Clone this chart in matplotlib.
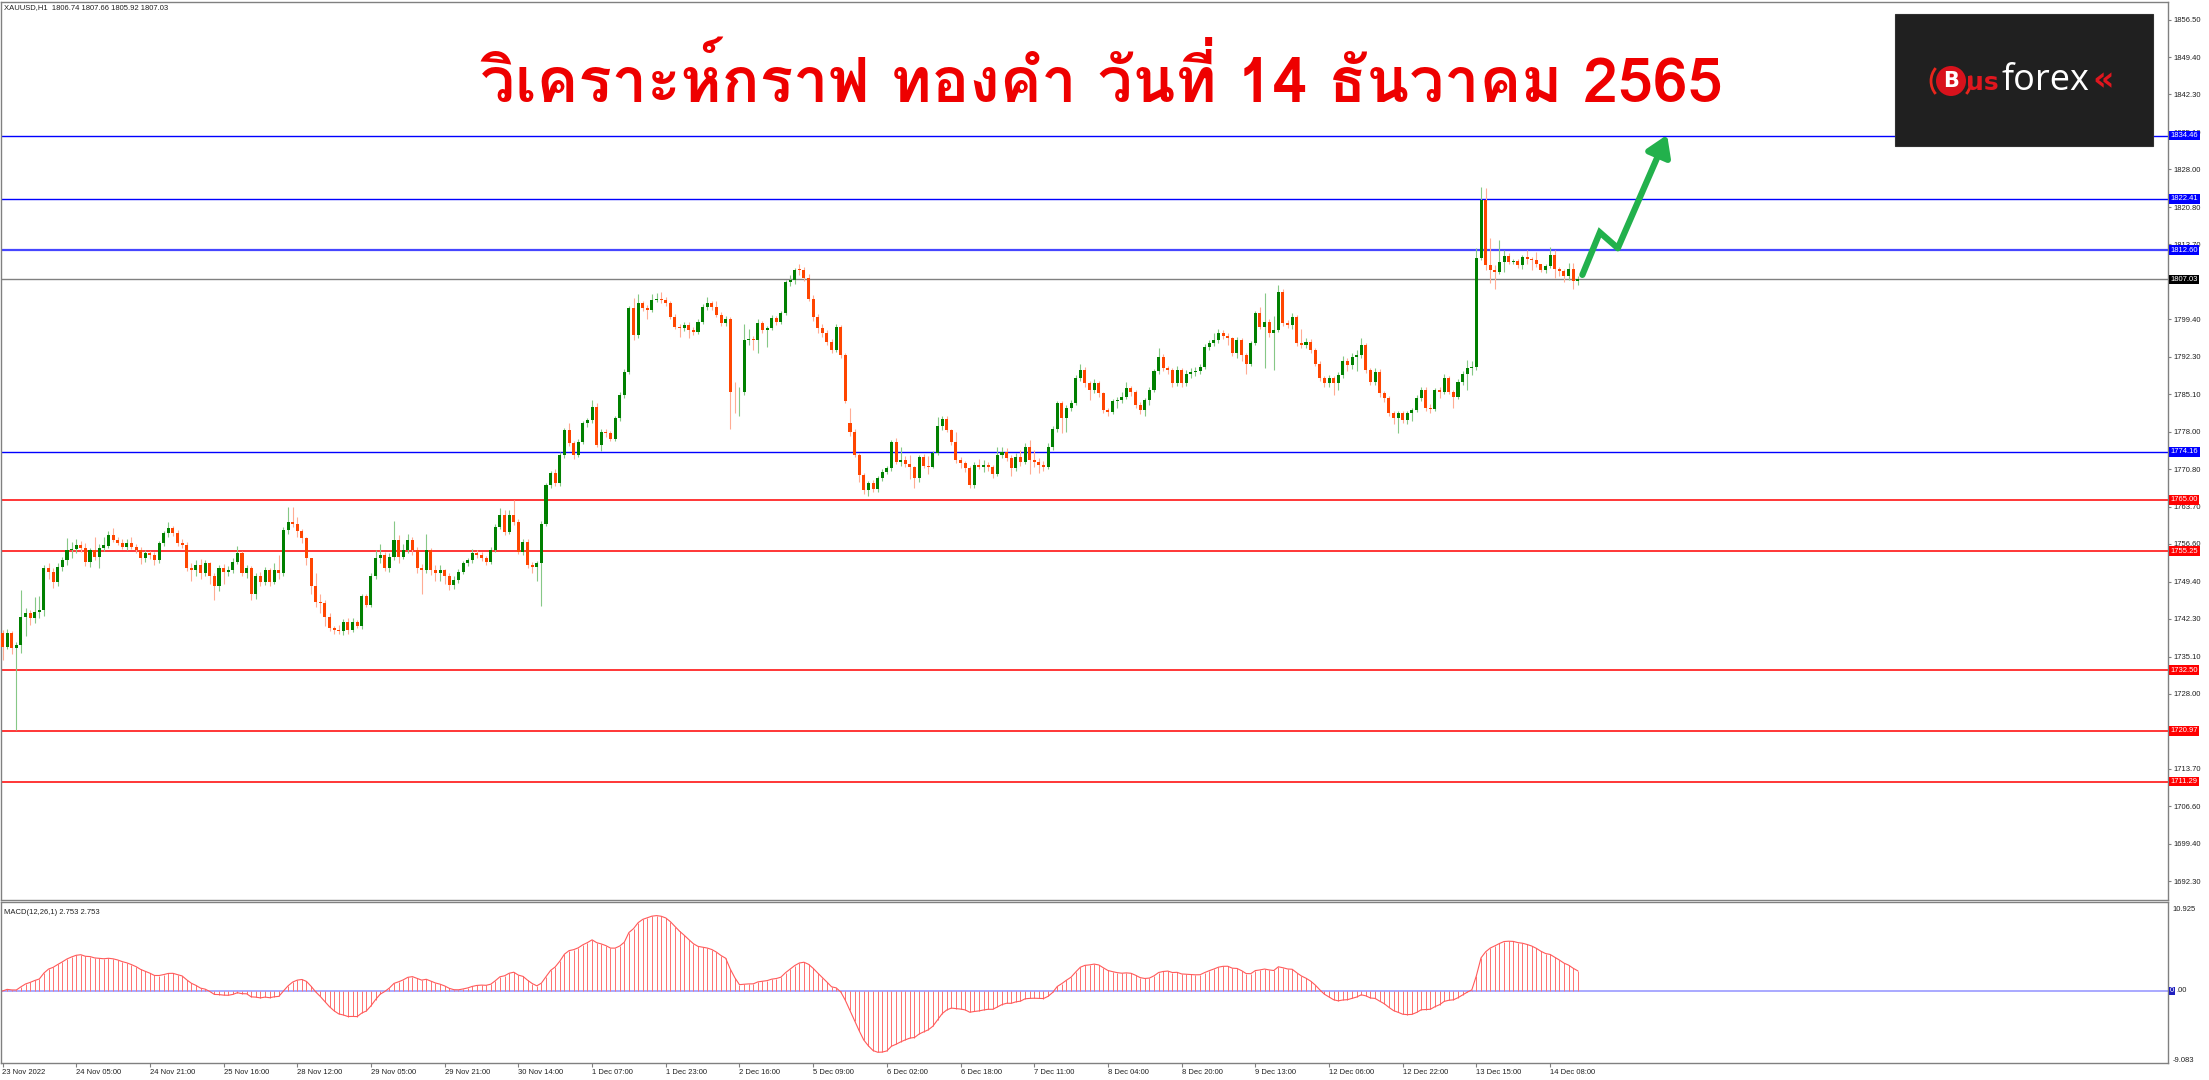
import numpy as np
import pandas as pd
import matplotlib
matplotlib.use("Agg")
import matplotlib.pyplot as plt
from matplotlib import font_manager, ft2font
from matplotlib.patches import Rectangle, Ellipse, Arc
from matplotlib.transforms import blended_transform_factory

# XAUUSD H1 candles, 23 Nov 2022 13:00 .. 14 Dec 2022 14:00
opens = [
    1739.7, 1737.0, 1739.7, 1736.7, 1737.3, 1742.7, 1743.4, 1742.4, 1743.7, 1744.0, 1752.0, 1751.3, 1749.4, 1752.3, 1753.5, 1755.4,
    1755.6, 1756.4, 1755.8, 1753.2, 1755.4, 1754.2, 1755.8, 1756.2, 1758.3, 1757.4, 1756.8, 1756.1, 1756.8, 1756.0, 1755.4, 1753.9,
    1754.8, 1754.5, 1753.5, 1756.7, 1758.6, 1759.6, 1758.6, 1756.7, 1756.4, 1752.0, 1751.6, 1752.6, 1751.0, 1752.9, 1750.4, 1748.5,
    1752.0, 1751.3, 1751.6, 1753.2, 1754.8, 1751.0, 1752.0, 1747.0, 1750.4, 1749.4, 1751.6, 1749.4, 1751.6, 1751.0, 1759.3, 1760.85,
    1760.5, 1759.0, 1757.7, 1753.9, 1748.5, 1745.6, 1745.3, 1742.7, 1740.5, 1740.2, 1740.0, 1741.8, 1740.2, 1741.8, 1741.0, 1746.6,
    1745.0, 1750.5, 1753.9, 1754.5, 1752.0, 1754.2, 1757.4, 1754.2, 1755.5, 1757.4, 1755.5, 1752.0, 1751.6, 1755.45, 1751.6, 1751.0,
    1751.6, 1750.4, 1748.8, 1749.7, 1751.3, 1752.9, 1753.5, 1754.8, 1754.5, 1753.9, 1753.2, 1755.45, 1759.9, 1762.1, 1758.95, 1762.1,
    1760.85, 1755.1, 1757.0, 1752.6, 1752.3, 1752.9, 1760.5, 1767.85, 1770.1, 1768.2, 1773.6, 1778.3, 1775.8, 1773.6, 1776.1, 1779.6,
    1780.2, 1782.8, 1775.5, 1778.0, 1777.7, 1776.7, 1780.6, 1785.0, 1789.45, 1801.5, 1796.4, 1802.5, 1801.5, 1801.2, 1803.2, 1803.4,
    1803.1, 1802.5, 1799.9, 1798.0, 1797.7, 1798.35, 1797.4, 1797.1, 1799.0, 1801.85, 1802.5, 1801.85, 1800.3, 1798.7, 1799.4, 1785.6,
    1785.5, 1785.6, 1795.5, 1795.6, 1795.4, 1798.7, 1797.4, 1797.8, 1799.6, 1799.0, 1800.6, 1806.6, 1806.9, 1808.9, 1808.8, 1807.25,
    1803.4, 1799.9, 1797.7, 1796.8, 1795.2, 1793.6, 1798.0, 1792.6, 1779.6, 1778.0, 1773.6, 1769.75, 1766.8, 1768.2, 1767.0, 1769.1,
    1770.4, 1771.0, 1776.1, 1772.3, 1772.6, 1771.9, 1771.3, 1769.1, 1773.2, 1771.5, 1771.3, 1773.9, 1779.0, 1780.5, 1778.3, 1776.1,
    1772.6, 1772.0, 1771.0, 1767.8, 1771.7, 1771.3, 1771.7, 1771.3, 1770.0, 1773.6, 1774.2, 1773.0, 1771.0, 1773.2, 1772.3, 1775.1,
    1772.6, 1772.2, 1771.6, 1771.3, 1775.1, 1778.6, 1783.4, 1780.6, 1782.5, 1783.4, 1788.2, 1789.8, 1787.2, 1786.0, 1787.2, 1785.3,
    1782.1, 1781.8, 1783.8, 1784.0, 1784.7, 1786.3, 1785.6, 1783.1, 1782.1, 1784.0, 1786.0, 1789.5, 1792.3, 1790.1, 1789.8, 1787.2,
    1789.8, 1787.2, 1789.1, 1789.45, 1789.5, 1790.4, 1794.2, 1794.85, 1795.5, 1796.9, 1796.3, 1795.8, 1792.95, 1795.5, 1792.6, 1791.0,
    1794.85, 1800.6, 1798.0, 1799.0, 1796.8, 1797.4, 1804.7, 1798.7, 1798.4, 1799.9, 1794.85, 1794.5, 1795.2, 1793.6, 1791.0, 1788.2,
    1787.2, 1788.2, 1787.2, 1788.8, 1791.4, 1790.7, 1792.3, 1792.6, 1794.5, 1789.8, 1787.5, 1789.45, 1785.3, 1784.4, 1781.5, 1780.55,
    1781.5, 1780.2, 1781.5, 1782.1, 1784.4, 1786.0, 1782.5, 1782.4, 1786.0, 1785.6, 1788.2, 1785.6, 1784.7, 1787.5, 1789.1, 1790.1,
    1790.3, 1811.1, 1822.2, 1809.8, 1808.9, 1808.5, 1810.4, 1811.5, 1810.4, 1810.6, 1809.8, 1811.25, 1810.9, 1810.8, 1809.9, 1808.8,
    1809.6, 1811.7, 1808.96, 1808.7, 1807.7, 1808.96, 1806.74,
]
highs = [
    1740.2, 1740.3, 1740.0, 1738.0, 1747.8, 1744.3, 1744.0, 1746.5, 1746.6, 1752.6, 1753.0, 1752.0, 1753.0, 1754.2, 1757.8, 1757.0,
    1757.6, 1757.2, 1756.8, 1755.9, 1758.0, 1756.5, 1758.0, 1759.0, 1759.6, 1758.0, 1757.5, 1757.6, 1757.9, 1756.6, 1756.0, 1755.5,
    1755.3, 1755.0, 1757.2, 1759.0, 1760.8, 1760.0, 1759.2, 1757.5, 1756.9, 1753.0, 1753.5, 1753.8, 1753.5, 1753.2, 1751.0, 1752.6,
    1752.8, 1752.4, 1754.0, 1756.2, 1755.3, 1752.5, 1752.4, 1751.0, 1751.2, 1752.3, 1752.0, 1752.9, 1754.5, 1759.8, 1763.7, 1763.7,
    1761.8, 1759.5, 1758.0, 1754.0, 1751.0, 1747.0, 1746.0, 1743.5, 1741.0, 1741.2, 1742.2, 1742.5, 1742.5, 1742.1, 1747.0, 1747.0,
    1751.0, 1755.4, 1756.5, 1755.0, 1754.8, 1761.0, 1758.3, 1756.5, 1758.5, 1758.0, 1756.0, 1752.8, 1758.5, 1755.8, 1752.5, 1752.5,
    1751.8, 1751.0, 1750.5, 1751.8, 1753.4, 1754.0, 1755.6, 1755.4, 1755.0, 1754.4, 1756.0, 1760.4, 1763.4, 1763.0, 1763.0, 1765.0,
    1761.3, 1757.5, 1757.5, 1753.1, 1753.4, 1761.0, 1768.3, 1770.6, 1770.8, 1774.1, 1778.8, 1779.7, 1776.3, 1776.6, 1780.0, 1780.7,
    1784.05, 1783.5, 1778.5, 1778.6, 1778.2, 1781.0, 1785.5, 1790.0, 1802.0, 1803.5, 1804.3, 1803.0, 1802.2, 1804.2, 1804.5, 1804.6,
    1803.6, 1803.0, 1800.4, 1798.6, 1799.0, 1799.0, 1797.9, 1799.5, 1802.3, 1803.7, 1803.0, 1803.0, 1800.8, 1800.0, 1799.9, 1787.5,
    1786.5, 1798.5, 1797.5, 1796.2, 1799.5, 1799.2, 1798.2, 1800.2, 1800.0, 1801.0, 1807.0, 1807.8, 1809.2, 1809.9, 1809.5, 1808.0,
    1804.0, 1800.5, 1798.5, 1797.3, 1795.6, 1798.6, 1798.4, 1793.0, 1782.5, 1778.6, 1774.0, 1770.2, 1768.6, 1768.8, 1769.5, 1770.8,
    1771.5, 1776.5, 1776.8, 1775.0, 1773.3, 1773.5, 1771.5, 1773.6, 1773.8, 1773.3, 1774.4, 1780.9, 1781.0, 1781.0, 1778.6, 1778.0,
    1773.2, 1772.5, 1771.5, 1772.3, 1772.8, 1772.6, 1772.3, 1771.6, 1775.15, 1775.0, 1774.9, 1773.5, 1774.0, 1774.6, 1775.9, 1776.5,
    1774.5, 1773.0, 1772.4, 1775.8, 1779.0, 1783.9, 1783.8, 1783.1, 1784.0, 1788.8, 1791.0, 1790.4, 1787.6, 1788.0, 1787.6, 1785.6,
    1782.6, 1784.3, 1784.6, 1785.6, 1787.5, 1786.8, 1786.0, 1783.6, 1784.5, 1786.5, 1790.0, 1794.0, 1792.8, 1790.6, 1790.2, 1790.6,
    1790.2, 1789.8, 1790.2, 1790.3, 1791.0, 1794.7, 1795.5, 1796.8, 1797.6, 1797.4, 1796.9, 1796.0, 1796.0, 1795.9, 1793.0, 1795.3,
    1801.1, 1801.8, 1804.4, 1799.5, 1800.0, 1806.0, 1805.3, 1799.3, 1800.6, 1800.3, 1797.5, 1795.8, 1795.6, 1794.0, 1791.4, 1788.6,
    1788.8, 1788.7, 1789.4, 1792.5, 1792.0, 1793.0, 1793.5, 1795.8, 1795.0, 1790.2, 1790.1, 1790.0, 1785.8, 1784.9, 1781.9, 1782.0,
    1782.0, 1782.0, 1782.6, 1785.0, 1786.5, 1786.6, 1783.2, 1786.4, 1786.5, 1789.1, 1788.7, 1786.0, 1788.0, 1789.6, 1791.6, 1791.5,
    1813.0, 1824.6, 1824.4, 1814.9, 1809.8, 1814.5, 1812.65, 1812.0, 1811.0, 1811.0, 1811.6, 1812.65, 1811.3, 1812.3, 1810.0, 1810.0,
    1813.2, 1812.65, 1809.4, 1809.0, 1810.1, 1810.1, 1807.66,
]
lows = [
    1734.5, 1736.5, 1735.6, 1721.1, 1735.8, 1739.0, 1741.2, 1741.5, 1742.5, 1742.8, 1750.0, 1748.2, 1748.5, 1751.5, 1752.5, 1754.0,
    1754.8, 1755.0, 1752.4, 1752.2, 1753.5, 1752.0, 1755.2, 1755.8, 1757.0, 1756.4, 1755.6, 1755.5, 1755.7, 1754.9, 1752.8, 1753.2,
    1753.8, 1752.5, 1753.0, 1756.2, 1758.0, 1758.1, 1756.3, 1755.8, 1751.5, 1749.5, 1750.5, 1749.9, 1750.5, 1749.0, 1746.0, 1747.6,
    1749.0, 1750.5, 1751.0, 1752.8, 1750.5, 1750.2, 1746.0, 1746.2, 1748.5, 1748.8, 1748.6, 1748.9, 1750.0, 1750.5, 1758.5, 1759.8,
    1758.0, 1756.8, 1752.5, 1747.0, 1744.5, 1743.5, 1741.0, 1740.0, 1739.5, 1739.4, 1739.3, 1739.4, 1739.8, 1740.6, 1740.3, 1744.6,
    1744.5, 1750.0, 1753.0, 1751.5, 1751.3, 1753.5, 1753.0, 1753.7, 1754.8, 1754.5, 1751.0, 1747.0, 1751.0, 1750.6, 1749.5, 1749.5,
    1749.0, 1747.8, 1748.0, 1749.2, 1750.8, 1752.4, 1753.0, 1754.0, 1753.3, 1752.6, 1752.8, 1755.0, 1759.4, 1758.4, 1758.5, 1760.3,
    1754.6, 1754.5, 1752.0, 1751.0, 1749.5, 1744.8, 1760.0, 1767.3, 1767.6, 1767.7, 1773.0, 1775.3, 1772.8, 1773.1, 1775.6, 1778.9,
    1779.7, 1775.0, 1774.4, 1777.0, 1776.2, 1776.2, 1780.1, 1784.5, 1789.0, 1795.5, 1795.9, 1801.0, 1799.5, 1800.8, 1802.7, 1802.6,
    1802.0, 1799.4, 1797.5, 1796.0, 1797.2, 1795.9, 1796.5, 1796.6, 1798.5, 1801.3, 1801.3, 1799.8, 1798.2, 1798.2, 1778.6, 1781.5,
    1781.0, 1785.0, 1794.5, 1793.5, 1793.0, 1796.8, 1794.2, 1797.3, 1798.3, 1798.6, 1800.2, 1805.8, 1806.2, 1807.8, 1806.8, 1803.0,
    1799.2, 1796.8, 1796.0, 1794.6, 1793.0, 1793.2, 1792.0, 1783.5, 1777.1, 1773.2, 1768.5, 1766.2, 1765.8, 1766.5, 1766.6, 1768.6,
    1770.0, 1770.6, 1771.8, 1771.5, 1771.2, 1769.0, 1767.2, 1768.5, 1771.0, 1770.0, 1771.0, 1773.5, 1778.4, 1778.0, 1775.5, 1772.0,
    1771.0, 1770.3, 1767.2, 1767.3, 1770.8, 1770.3, 1770.5, 1769.2, 1769.6, 1772.9, 1772.5, 1769.5, 1770.5, 1771.5, 1771.9, 1770.0,
    1771.3, 1770.2, 1770.5, 1770.8, 1774.6, 1778.0, 1777.7, 1778.0, 1782.0, 1783.0, 1787.6, 1786.6, 1784.0, 1785.4, 1784.7, 1781.6,
    1781.0, 1781.3, 1782.5, 1783.5, 1784.2, 1784.9, 1782.5, 1781.3, 1781.0, 1783.0, 1785.6, 1789.0, 1789.6, 1789.0, 1786.6, 1786.8,
    1786.5, 1786.8, 1788.3, 1788.6, 1789.0, 1789.9, 1793.6, 1794.3, 1795.0, 1795.6, 1794.5, 1792.4, 1792.0, 1791.5, 1789.1, 1790.5,
    1794.5, 1797.5, 1790.1, 1796.0, 1789.8, 1797.0, 1798.2, 1797.8, 1797.5, 1794.3, 1794.0, 1794.0, 1793.0, 1790.5, 1787.6, 1786.6,
    1786.5, 1785.0, 1786.0, 1788.2, 1789.5, 1790.0, 1789.5, 1792.0, 1789.2, 1787.0, 1787.0, 1784.7, 1783.6, 1781.0, 1779.5, 1777.8,
    1779.6, 1779.5, 1780.0, 1781.7, 1783.9, 1782.0, 1781.6, 1782.0, 1784.5, 1785.2, 1785.1, 1782.5, 1784.2, 1787.0, 1786.0, 1788.8,
    1789.8, 1810.8, 1808.9, 1806.3, 1805.3, 1808.0, 1808.5, 1809.9, 1810.0, 1809.2, 1809.0, 1810.0, 1808.8, 1809.5, 1808.4, 1808.2,
    1809.2, 1807.25, 1807.6, 1806.6, 1806.9, 1805.3, 1805.92,
]
closes = [
    1737.0, 1739.7, 1736.7, 1737.3, 1742.7, 1743.4, 1742.4, 1743.7, 1744.0, 1752.0, 1751.3, 1749.4, 1752.3, 1753.5, 1755.4, 1755.6,
    1756.4, 1755.8, 1753.2, 1755.4, 1754.2, 1755.8, 1756.4, 1758.3, 1757.4, 1756.8, 1756.1, 1756.8, 1756.0, 1755.4, 1753.9, 1754.8,
    1754.5, 1753.5, 1756.7, 1758.6, 1759.6, 1758.6, 1756.7, 1756.4, 1752.0, 1751.6, 1752.6, 1751.0, 1752.9, 1750.4, 1748.5, 1752.0,
    1751.3, 1751.6, 1753.2, 1754.8, 1751.0, 1752.0, 1747.0, 1750.4, 1749.4, 1751.6, 1749.4, 1751.6, 1751.0, 1759.3, 1760.85, 1760.5,
    1759.0, 1757.7, 1753.9, 1748.5, 1745.6, 1745.3, 1742.7, 1740.5, 1740.2, 1740.0, 1741.8, 1740.2, 1741.8, 1741.0, 1746.6, 1745.0,
    1750.5, 1753.9, 1754.5, 1752.0, 1754.2, 1757.4, 1754.2, 1755.5, 1757.4, 1755.5, 1752.0, 1751.6, 1755.45, 1751.6, 1751.0, 1751.6,
    1750.4, 1748.8, 1749.7, 1751.3, 1752.9, 1753.5, 1754.8, 1754.5, 1753.9, 1753.2, 1755.45, 1759.9, 1762.1, 1758.95, 1762.1, 1760.85,
    1755.1, 1757.0, 1752.6, 1752.3, 1752.9, 1760.5, 1767.85, 1770.1, 1768.2, 1773.6, 1778.3, 1775.8, 1773.6, 1776.1, 1779.6, 1780.2,
    1782.8, 1775.5, 1778.0, 1777.7, 1776.7, 1780.6, 1785.0, 1789.45, 1801.5, 1796.4, 1802.5, 1801.5, 1801.2, 1803.2, 1803.4, 1803.1,
    1802.5, 1799.9, 1798.0, 1797.7, 1798.35, 1797.4, 1797.1, 1799.0, 1801.85, 1802.5, 1801.85, 1800.3, 1798.7, 1799.4, 1785.6, 1785.5,
    1785.6, 1795.5, 1795.6, 1795.4, 1798.7, 1797.4, 1797.8, 1799.6, 1799.0, 1800.6, 1806.6, 1806.9, 1808.8, 1808.8, 1807.25, 1803.4,
    1799.9, 1797.7, 1796.8, 1795.2, 1793.6, 1798.0, 1792.6, 1783.9, 1778.0, 1773.6, 1769.75, 1766.8, 1768.2, 1767.0, 1769.1, 1770.4,
    1771.0, 1776.1, 1772.3, 1772.6, 1771.9, 1771.3, 1769.1, 1773.2, 1771.5, 1771.3, 1773.9, 1779.0, 1780.5, 1778.3, 1776.1, 1772.6,
    1772.0, 1771.0, 1767.8, 1771.7, 1771.3, 1771.7, 1771.3, 1770.0, 1773.6, 1774.2, 1773.0, 1771.0, 1773.2, 1772.3, 1775.1, 1772.6,
    1772.2, 1771.6, 1771.3, 1775.1, 1778.6, 1783.4, 1780.6, 1782.5, 1783.4, 1788.2, 1789.8, 1787.2, 1786.0, 1787.2, 1785.3, 1782.1,
    1781.8, 1783.8, 1784.0, 1784.7, 1786.3, 1785.6, 1783.1, 1782.1, 1784.0, 1786.0, 1789.5, 1792.3, 1790.1, 1789.8, 1787.2, 1789.8,
    1787.2, 1789.1, 1789.45, 1789.5, 1790.4, 1794.2, 1794.85, 1795.5, 1796.9, 1796.3, 1795.8, 1792.95, 1795.5, 1792.6, 1791.0, 1794.85,
    1800.6, 1798.0, 1799.0, 1796.8, 1797.4, 1804.7, 1798.7, 1798.4, 1799.9, 1794.85, 1794.5, 1795.2, 1793.6, 1791.0, 1788.2, 1787.2,
    1788.2, 1787.2, 1788.8, 1791.4, 1790.7, 1792.3, 1792.6, 1794.5, 1789.8, 1787.5, 1789.45, 1785.3, 1784.4, 1781.5, 1780.55, 1781.5,
    1780.2, 1781.5, 1782.1, 1784.4, 1786.0, 1782.5, 1782.4, 1785.96, 1785.6, 1788.2, 1785.6, 1784.7, 1787.5, 1789.1, 1790.1, 1790.3,
    1811.1, 1822.2, 1809.8, 1808.9, 1808.5, 1810.4, 1811.5, 1810.4, 1810.6, 1809.8, 1811.25, 1810.9, 1810.8, 1809.9, 1808.8, 1809.6,
    1811.7, 1808.96, 1808.7, 1807.7, 1808.96, 1806.8, 1807.03,
]

x_labels = ["23 Nov 2022", "24 Nov 05:00", "24 Nov 21:00", "25 Nov 16:00", "28 Nov 12:00", "29 Nov 05:00",
            "29 Nov 21:00", "30 Nov 14:00", "1 Dec 07:00", "1 Dec 23:00", "2 Dec 16:00", "5 Dec 09:00",
            "6 Dec 02:00", "6 Dec 18:00", "7 Dec 11:00", "8 Dec 04:00", "8 Dec 20:00", "9 Dec 13:00",
            "12 Dec 06:00", "12 Dec 22:00", "13 Dec 15:00", "14 Dec 08:00"]
label_step = 16

price_ticks = [1856.50, 1849.40, 1842.30, 1835.10, 1828.00, 1820.80, 1813.70, 1799.40, 1792.30, 1785.10,
               1778.00, 1770.80, 1763.70, 1756.60, 1749.40, 1742.30, 1735.10, 1728.00, 1713.70, 1706.60,
               1699.40, 1692.30]

blue_levels = [1834.46, 1822.41, 1812.60, 1774.16]
red_levels = [1765.00, 1755.25, 1732.50, 1720.97, 1711.29]
bid_price = 1807.03

# hand-drawn forecast arrow: bars after the last candle, price
arrow_bars = [1, 4.8, 8.7, 19.4]
arrow_prices = [1807.9, 1816.0, 1813.0, 1834.6]

title = "วิเคราะห์กราฟ ทองคำ วันที่ 14 ธันวาคม 2565"
header = "XAUUSD,H1  1806.74 1807.66 1805.92 1807.03"


def thai_family():
    seen = set()
    found = []
    for f in font_manager.fontManager.ttflist:
        if f.fname in seen or "CJK" in f.name:
            continue
        seen.add(f.fname)
        try:
            if 0x0E01 in ft2font.FT2Font(f.fname).get_charmap():
                found.append(f)
        except Exception:
            pass
    for f in found:
        if str(f.weight) in ("bold", "700", "800", "900"):
            return f.name
    return found[0].name if found else "DejaVu Sans"


plt.rcParams["font.family"] = ["Liberation Sans", "DejaVu Sans"]

W, H = 2209, 1080
fig = plt.figure(figsize=(W / 100, H / 100), dpi=100, facecolor="white")


def px_axes(left, top, right, bottom):
    return fig.add_axes([left / W, 1 - bottom / H, (right - left) / W, (bottom - top) / H])


ax = px_axes(1, 2, 2168, 900)
axm = px_axes(1, 902, 2168, 1063)

o = np.array(opens)
h = np.array(highs)
l = np.array(lows)
c = np.array(closes)
idx = np.arange(len(c))
up = c >= o

bar_px = 4.606
x_lo = (1 - 2.5) / bar_px
x_hi = (2168 - 2.5) / bar_px

# candles
ax.vlines(idx[up], l[up], h[up], color="#86c886", lw=0.8, zorder=2)
ax.vlines(idx[~up], l[~up], h[~up], color="#ffac94", lw=0.8, zorder=2)
body_lo = np.minimum(o, c)
body_h = np.maximum(np.abs(c - o), 0.15)
ax.bar(idx[up], body_h[up], bottom=body_lo[up], width=0.66, color="#008000", linewidth=0, zorder=3)
ax.bar(idx[~up], body_h[~up], bottom=body_lo[~up], width=0.66, color="#ff4500", linewidth=0, zorder=3)

# levels
for lv in blue_levels:
    lw = 1.6 if lv == 1812.60 else 1.0
    col = "#4646ff" if lv == 1812.60 else "#0000ff"
    ax.axhline(lv, color=col, lw=lw, zorder=1)
for lv in red_levels:
    ax.axhline(lv, color="#ff0000", lw=1.1, zorder=1)
ax.axhline(bid_price, color="#808080", lw=1.0, zorder=1)

# forecast arrow
last = idx[-1]
ax_x = [last + b for b in arrow_bars]
ax.plot(ax_x[:-1], arrow_prices[:-1], color="#22b14c", lw=4.5, solid_capstyle="round",
        solid_joinstyle="miter", zorder=5)
ax.annotate("", xy=(ax_x[-1], arrow_prices[-1]), xytext=(ax_x[-2], arrow_prices[-2]),
            arrowprops=dict(arrowstyle="-|>,head_length=0.55,head_width=0.35", lw=4.5,
                            color="#22b14c", mutation_scale=22, shrinkA=0, shrinkB=0), zorder=5)

ax.set_xlim(x_lo, x_hi)
ax.set_ylim(1688.72, 1859.93)
ax.set_xticks([])
ax.yaxis.tick_right()
ax.set_yticks(price_ticks)
ax.set_yticklabels([f"{v:.2f}" for v in price_ticks])
ax.tick_params(axis="y", labelsize=5.5, length=2.5, pad=1.5, color="#808080", labelcolor="#202020")

# price tags on the right scale
tr = blended_transform_factory(ax.transAxes, ax.transData)
tags = [(v, "#0000ff") for v in blue_levels] + [(v, "#ff0000") for v in red_levels] + [(bid_price, "#000000")]
for v, col in tags:
    ax.text(1.0012, v, f"{v:.2f}", transform=tr, fontsize=5.5, color="white", va="center", ha="left",
            bbox=dict(boxstyle="square,pad=0.18", fc=col, ec="none"), clip_on=False, zorder=6)

# MACD(12,26,1)
cs = pd.Series(c)
macd = (cs.ewm(span=12, adjust=False).mean() - cs.ewm(span=26, adjust=False).mean()).to_numpy()
axm.axhline(0, color="#9b9bff", lw=1.2, zorder=1)
axm.vlines(idx, 0, macd, color="#ff7070", lw=0.7, zorder=2)
axm.plot(idx, macd, color="#ff5a5a", lw=0.8, zorder=3)
axm.set_xlim(x_lo, x_hi)
axm.set_ylim(-9.54, 11.79)
axm.yaxis.tick_right()
axm.set_yticks([10.925, -9.083])
axm.set_yticklabels(["10.925", "-9.083"])
axm.tick_params(axis="y", labelsize=5.5, length=0, pad=3, labelcolor="#202020")
trm = blended_transform_factory(axm.transAxes, axm.transData)
axm.text(1.0008, 0, "0", transform=trm, fontsize=5.5, color="white", va="center", ha="left",
         bbox=dict(boxstyle="square,pad=0.12", fc="#2020c0", ec="none"), clip_on=False)
axm.text(1.0036, 0, ".00", transform=trm, fontsize=5.5, color="#202020", va="center", ha="left",
         clip_on=False)

axm.set_xticks(np.arange(len(x_labels)) * label_step)
axm.set_xticklabels(x_labels)
axm.tick_params(axis="x", labelsize=5.5, length=3, pad=1.5, color="#808080", labelcolor="#202020")
for t in axm.get_xticklabels():
    t.set_ha("left")

for a in (ax, axm):
    for s in a.spines.values():
        s.set_color("#808080")
        s.set_linewidth(1.0)

fig.text(4 / W, 1 - 8 / H, header, fontsize=5.5, color="#202020", va="center", ha="left")
fig.text(4 / W, 1 - 913 / H, "MACD(12,26,1) 2.753 2.753", fontsize=5.5, color="#202020",
         va="center", ha="left")

# title
fig.text(1102 / W, 1 - 81 / H, title, fontsize=45, fontweight="bold", color="#ee0000",
         family=[thai_family(), "DejaVu Sans"], ha="center", va="center")

# logo
fig.patches.append(Rectangle((1895 / W, 1 - 146 / H), (2153 - 1895) / W, (146 - 14) / H,
                             transform=fig.transFigure, fc="#202020", ec="#303030", lw=0.8, zorder=4))
fig.patches.append(Ellipse((1951 / W, 1 - 81 / H), 30 / W, 30 / H, transform=fig.transFigure,
                           fc="#d8121c", ec="none", zorder=5))
fig.patches.append(Arc((1951 / W, 1 - 81 / H), 40 / W, 40 / H, theta1=120, theta2=240,
                       transform=fig.transFigure, color="#e8261c", lw=2.0, zorder=5))
fig.patches.append(Arc((1951 / W, 1 - 81 / H), 40 / W, 40 / H, theta1=-60, theta2=30,
                       transform=fig.transFigure, color="#e8261c", lw=2.0, zorder=5))
fig.text(1951 / W, 1 - 81 / H, "B", fontsize=15, fontweight="bold", color="white",
         family="DejaVu Sans", ha="center", va="center", zorder=6)
fig.text(1966 / W, 1 - 90 / H, "us", fontsize=18, fontweight="bold", color="#e0161e",
         family="DejaVu Sans", ha="left", va="baseline", zorder=6)
fig.text(2001 / W, 1 - 90 / H, "forex", fontsize=26, color="white",
         family="Open Sans", ha="left", va="baseline", zorder=6)
fig.text(2092 / W, 1 - 90 / H, "«", fontsize=24, fontweight="bold", color="#e0161e",
         family="DejaVu Sans", ha="left", va="baseline", zorder=6)

fig.savefig("out.png", dpi=100, facecolor="white")
